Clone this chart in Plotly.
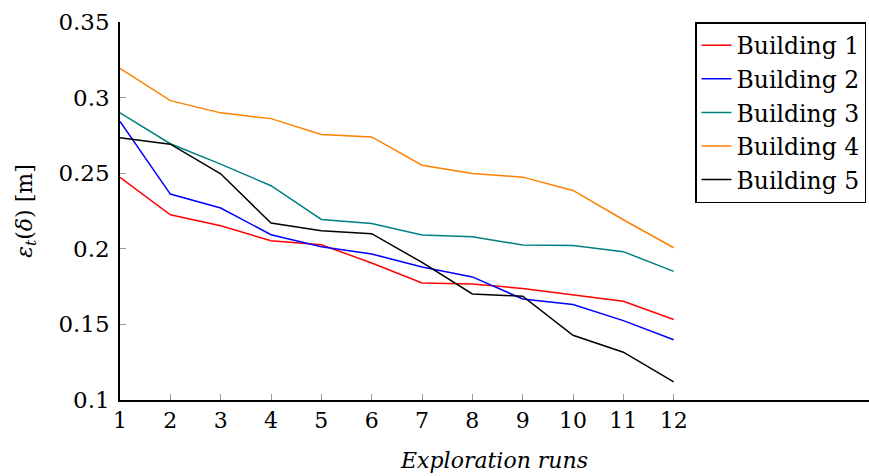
import plotly.graph_objects as go

runs = list(range(1, 13))
building1 = [0.2472, 0.2225, 0.2153, 0.2053, 0.2027, 0.1906, 0.1774, 0.1767, 0.1738, 0.1697, 0.1653, 0.1532]
building2 = [0.2842, 0.2362, 0.2270, 0.2093, 0.2014, 0.1966, 0.1880, 0.1814, 0.1668, 0.1631, 0.1525, 0.1398]
building3 = [0.2899, 0.2695, 0.2560, 0.2417, 0.2194, 0.2168, 0.2091, 0.2080, 0.2025, 0.2021, 0.1981, 0.1851]
building4 = [0.3194, 0.2980, 0.2899, 0.2861, 0.2756, 0.2740, 0.2553, 0.2498, 0.2474, 0.2386, 0.2192, 0.2007]
building5 = [0.2734, 0.2692, 0.2496, 0.2170, 0.2120, 0.2100, 0.1910, 0.1701, 0.1686, 0.1428, 0.1316, 0.1120]

names = ["Building 1", "Building 2", "Building 3", "Building 4", "Building 5"]
series = [building1, building2, building3, building4, building5]
colors = ["#ff0000", "#0000ff", "#008080", "#ff8000", "#000000"]

yticks = [0.1, 0.15, 0.2, 0.25, 0.3, 0.35]
ytick_text = ["0.1", "0.15", "0.2", "0.25", "0.3", "0.35"]

FONT = "DejaVu Serif, Liberation Serif, serif"

fig = go.Figure()
for n, s, c in zip(names, series, colors):
    fig.add_trace(go.Scatter(x=runs, y=s, mode="lines", name=n,
                             line=dict(color=c, width=1.5)))

fig.update_layout(
    width=869, height=476,
    margin=dict(l=120, r=0, t=22, b=76),
    paper_bgcolor="white", plot_bgcolor="white",
    font=dict(family=FONT, size=22, color="black"),
    showlegend=True,
    legend=dict(x=0.996, y=1.0, xanchor="right", yanchor="top",
                bordercolor="black", borderwidth=1.5, bgcolor="white",
                font=dict(family=FONT, size=23.5), tracegroupgap=0,
                itemwidth=30),
)
fig.update_xaxes(
    range=[1, 15.88], tickvals=runs, ticktext=[str(r) for r in runs],
    showgrid=False, zeroline=False, showline=True, linecolor="black", linewidth=1.5,
    ticks="inside", ticklen=6, tickcolor="#999999", tickwidth=1,
    tickfont=dict(family=FONT, size=22),
    title=dict(text="<i>Exploration runs</i>", font=dict(family=FONT, size=22), standoff=20),
)
fig.update_yaxes(
    range=[0.1, 0.35], tickvals=yticks, ticktext=ytick_text,
    showgrid=False, zeroline=False, showline=True, linecolor="black", linewidth=1.5,
    ticks="inside", ticklen=6, tickcolor="#999999", tickwidth=1,
    tickfont=dict(family=FONT, size=23), ticklabelstandoff=4,
    title=dict(text="<i>ε</i><sub><i>t</i></sub>(<i>δ</i>) [m]", font=dict(family=FONT, size=22), standoff=20),
)

fig.write_html("out.html")
